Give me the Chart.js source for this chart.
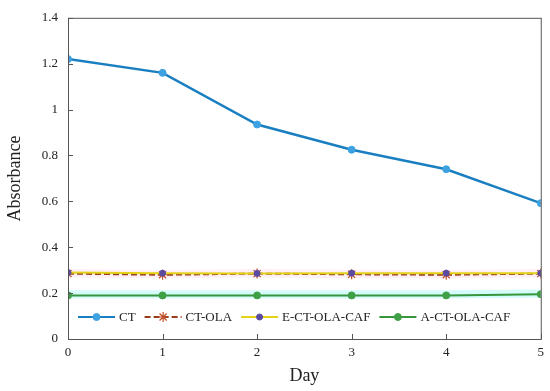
<!DOCTYPE html>
<html>
<head>
<meta charset="utf-8">
<script src="https://cdn.jsdelivr.net/npm/chart.js@4.4.1/dist/chart.umd.min.js"></script>
<style>
  html, body { margin: 0; padding: 0; background: #fff; }
  #wrap { width: 550px; height: 391px; }
</style>
</head>
<body>
<div id="wrap"><canvas id="chart" width="550" height="391"></canvas></div>
<script>
var days = [0, 1, 2, 3, 4, 5];
var ct = [1.22, 1.16, 0.935, 0.825, 0.74, 0.592];
var ctOla = [0.285, 0.28, 0.285, 0.282, 0.28, 0.285];
var eCtOlaCaf = [0.29, 0.287, 0.286, 0.287, 0.287, 0.287];
var aCtOlaCaf = [0.19, 0.19, 0.19, 0.19, 0.19, 0.195];
// shaded spread bands
var pinkHi = [0.305, 0.3, 0.305, 0.302, 0.3, 0.305];
var pinkLo = [0.268, 0.265, 0.268, 0.265, 0.265, 0.268];
var cyanHi = [0.212, 0.212, 0.212, 0.212, 0.212, 0.216];
var cyanLo = [0.176, 0.176, 0.176, 0.176, 0.176, 0.18];

var serif = '"Liberation Serif", "Times New Roman", serif';

function pts(vals) {
    return days.map(function (d, i) { return { x: d, y: vals[i] }; });
}

var series = [
    { label: 'CT', data: ct, color: '#1a7fc1', point: '#3ea2e2', style: 'circle', r: 3.5, dash: [] },
    { label: 'CT-OLA', data: ctOla, color: '#9a3b1c', point: '#c0502a', style: 'star', r: 5, dash: [6, 3] },
    { label: 'E-CT-OLA-CAF', data: eCtOlaCaf, color: '#e2d21a', point: '#5a4aa0', style: 'circle', r: 3, dash: [] },
    { label: 'A-CT-OLA-CAF', data: aCtOlaCaf, color: '#36963c', point: '#40a045', style: 'circle', r: 3.5, dash: [] }
];

function band(vals, fill, bg) {
    return { data: pts(vals), borderWidth: 0, borderColor: 'rgba(0,0,0,0)', pointRadius: 0,
        fill: fill, backgroundColor: bg, order: 10 };
}

var datasets = [
    band(pinkHi, '+1', 'rgba(255,225,240,0.55)'),
    band(pinkLo, false, 'rgba(0,0,0,0)'),
    band(cyanHi, '+1', 'rgba(200,250,250,0.75)'),
    band(cyanLo, false, 'rgba(0,0,0,0)')
];
series.forEach(function (s, i) {
    datasets.push({
        label: s.label,
        data: pts(s.data),
        borderColor: s.color,
        borderWidth: s.label === 'CT' ? 2.5 : 2,
        borderDash: s.dash,
        pointStyle: s.style,
        pointRadius: s.r,
        pointBackgroundColor: s.point,
        pointBorderColor: s.point,
        pointBorderWidth: s.style === 'star' ? 1.2 : 1,
        fill: false,
        tension: 0,
        order: 4 - i
    });
});

//frame, inward ticks and legend inside the plot
var decor = {
    id: 'decor',
    afterDatasetsDraw: function (chart) {
        var ctx = chart.ctx, a = chart.chartArea;
        var xs = chart.scales.x, ys = chart.scales.y;
        ctx.save();
        ctx.strokeStyle = '#555';
        ctx.lineWidth = 1;
        ctx.strokeRect(a.left + 0.5, a.top + 0.5, a.right - a.left, a.bottom - a.top);
        ctx.beginPath();
        xs.ticks.forEach(function (t) {
            var px = Math.round(xs.getPixelForValue(t.value)) + 0.5;
            ctx.moveTo(px, a.bottom); ctx.lineTo(px, a.bottom - 5);
        });
        ys.ticks.forEach(function (t) {
            var py = Math.round(ys.getPixelForValue(t.value)) + 0.5;
            ctx.moveTo(a.left, py); ctx.lineTo(a.left + 5, py);
        });
        ctx.stroke();

        // legend
        ctx.font = '13px ' + serif;
        ctx.textBaseline = 'middle';
        var y = a.bottom - 22;
        var x = a.left + 10;
        series.forEach(function (s) {
            ctx.strokeStyle = s.color;
            ctx.lineWidth = 2;
            ctx.setLineDash(s.dash);
            ctx.beginPath();
            ctx.moveTo(x, y); ctx.lineTo(x + 37, y);
            ctx.stroke();
            ctx.setLineDash([]);
            ctx.fillStyle = s.point;
            ctx.strokeStyle = s.point;
            ctx.lineWidth = s.style === 'star' ? 1.2 : 1;
            Chart.helpers.drawPoint(ctx, {
                pointStyle: s.style, radius: s.r, borderWidth: ctx.lineWidth
            }, x + 18.5, y);
            ctx.fillStyle = '#222';
            ctx.fillText(s.label, x + 41, y + 1);
            x += 41 + ctx.measureText(s.label).width + 9;
        });
        ctx.restore();
    }
};

new Chart(document.getElementById('chart'), {
    type: 'line',
    data: { datasets: datasets },
    options: {
        responsive: false,
        animation: false,
        layout: { padding: { top: 11, right: 9, left: 0, bottom: 0 } },
        plugins: {
            legend: { display: false },
            tooltip: { enabled: false }
        },
        scales: {
            x: {
                type: 'linear',
                min: 0, max: 5,
                ticks: { stepSize: 1, color: '#222', padding: 6, font: { family: serif, size: 13 } },
                grid: { display: false, drawTicks: false },
                border: { display: false },
                title: { display: true, text: 'Day', color: '#222', padding: { top: 8 }, font: { family: serif, size: 18 } },
                afterFit: function (scale) { scale.height = 52; }
            },
            y: {
                min: 0, max: 1.4,
                ticks: {
                    stepSize: 0.2, color: '#222', padding: 10, font: { family: serif, size: 13 },
                    callback: function (v) { return String(parseFloat(v.toFixed(1))); }
                },
                grid: { display: false, drawTicks: false },
                border: { display: false },
                title: { display: true, text: 'Absorbance', color: '#222', padding: { bottom: 4 }, font: { family: serif, size: 18 } },
                afterFit: function (scale) { scale.width = 68; }
            }
        }
    },
    plugins: [decor]
});
</script>
</body>
</html>
